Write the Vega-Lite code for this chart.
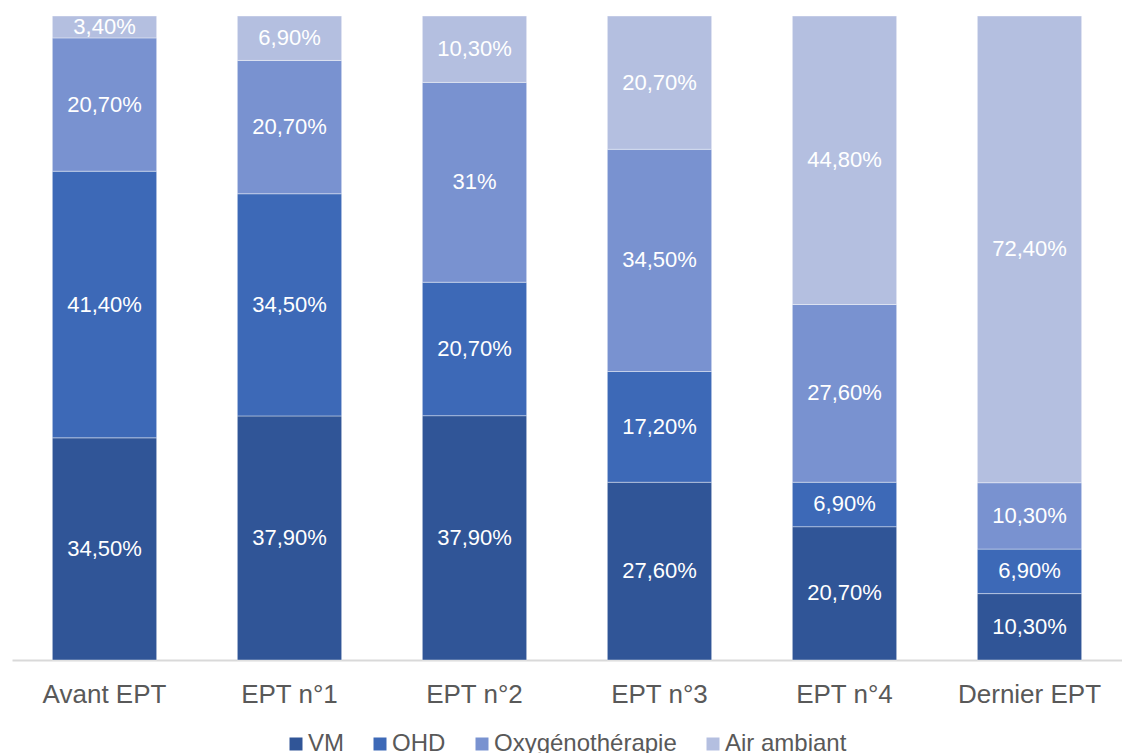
{
  "$schema": "https://vega.github.io/schema/vega-lite/v6.json",
  "width": 1110,
  "height": 644,
  "autosize": {"type": "none"},
  "padding": {"left": 12, "top": 16, "right": 0, "bottom": 93},
  "background": "white",
  "config": {"view": {"stroke": null}, "font": "Liberation Sans"},
  "data": {"values": [
    {"cat": "Avant EPT", "serie": "VM", "ord": 1, "val": 34.5, "label": "34,50%"},
    {"cat": "Avant EPT", "serie": "OHD", "ord": 2, "val": 41.4, "label": "41,40%"},
    {"cat": "Avant EPT", "serie": "Oxygénothérapie", "ord": 3, "val": 20.7, "label": "20,70%"},
    {"cat": "Avant EPT", "serie": "Air ambiant", "ord": 4, "val": 3.4, "label": "3,40%"},
    {"cat": "EPT n°1", "serie": "VM", "ord": 1, "val": 37.9, "label": "37,90%"},
    {"cat": "EPT n°1", "serie": "OHD", "ord": 2, "val": 34.5, "label": "34,50%"},
    {"cat": "EPT n°1", "serie": "Oxygénothérapie", "ord": 3, "val": 20.7, "label": "20,70%"},
    {"cat": "EPT n°1", "serie": "Air ambiant", "ord": 4, "val": 6.9, "label": "6,90%"},
    {"cat": "EPT n°2", "serie": "VM", "ord": 1, "val": 37.9, "label": "37,90%"},
    {"cat": "EPT n°2", "serie": "OHD", "ord": 2, "val": 20.7, "label": "20,70%"},
    {"cat": "EPT n°2", "serie": "Oxygénothérapie", "ord": 3, "val": 31, "label": "31%"},
    {"cat": "EPT n°2", "serie": "Air ambiant", "ord": 4, "val": 10.3, "label": "10,30%"},
    {"cat": "EPT n°3", "serie": "VM", "ord": 1, "val": 27.6, "label": "27,60%"},
    {"cat": "EPT n°3", "serie": "OHD", "ord": 2, "val": 17.2, "label": "17,20%"},
    {"cat": "EPT n°3", "serie": "Oxygénothérapie", "ord": 3, "val": 34.5, "label": "34,50%"},
    {"cat": "EPT n°3", "serie": "Air ambiant", "ord": 4, "val": 20.7, "label": "20,70%"},
    {"cat": "EPT n°4", "serie": "VM", "ord": 1, "val": 20.7, "label": "20,70%"},
    {"cat": "EPT n°4", "serie": "OHD", "ord": 2, "val": 6.9, "label": "6,90%"},
    {"cat": "EPT n°4", "serie": "Oxygénothérapie", "ord": 3, "val": 27.6, "label": "27,60%"},
    {"cat": "EPT n°4", "serie": "Air ambiant", "ord": 4, "val": 44.8, "label": "44,80%"},
    {"cat": "Dernier EPT", "serie": "VM", "ord": 1, "val": 10.3, "label": "10,30%"},
    {"cat": "Dernier EPT", "serie": "OHD", "ord": 2, "val": 6.9, "label": "6,90%"},
    {"cat": "Dernier EPT", "serie": "Oxygénothérapie", "ord": 3, "val": 10.3, "label": "10,30%"},
    {"cat": "Dernier EPT", "serie": "Air ambiant", "ord": 4, "val": 72.4, "label": "72,40%"}
  ]},
  "transform": [
    {"stack": "val", "groupby": ["cat"], "sort": [{"field": "ord", "order": "ascending"}], "offset": "normalize", "as": ["v0", "v1"]},
    {"calculate": "(datum.v0 + datum.v1) / 2", "as": "vmid"}
  ],
  "encoding": {
    "x": {
      "field": "cat", "type": "nominal", "sort": null, "title": null,
      "scale": {"paddingInner": 0.436, "paddingOuter": 0.218},
      "axis": {
        "labelAngle": 0, "ticks": false, "domainColor": "#D9D9D9", "domainWidth": 2,
        "labelFont": "Liberation Sans", "labelFontSize": 26, "labelColor": "#595959",
        "labelPadding": 21, "labelBaseline": "top"
      }
    }
  },
  "layer": [
    {
      "mark": {"type": "bar", "stroke": "white", "strokeWidth": 0.8, "strokeOpacity": 0.5},
      "encoding": {
        "y": {"field": "v0", "type": "quantitative", "scale": {"domain": [0, 1], "nice": false}, "axis": null},
        "y2": {"field": "v1"},
        "color": {
          "field": "serie", "type": "nominal",
          "scale": {"domain": ["VM", "OHD", "Oxygénothérapie", "Air ambiant"], "range": ["#305597", "#3D69B7", "#7992D0", "#B4BFE0"]},
          "legend": {
            "title": null, "orient": "none", "direction": "horizontal",
            "legendX": 272, "legendY": 716, "padding": 0,
            "symbolType": "square", "symbolSize": 169, "symbolStrokeWidth": 0,
            "labelFont": "Liberation Sans", "labelFontSize": 24, "labelColor": "#595959",
            "labelOffset": 0, "columnPadding": 24, "labelLimit": 0
          }
        }
      }
    },
    {
      "mark": {"type": "text", "color": "white", "font": "Liberation Sans", "fontSize": 22, "baseline": "middle", "align": "center"},
      "encoding": {
        "y": {"field": "vmid", "type": "quantitative", "scale": {"domain": [0, 1], "nice": false}, "axis": null},
        "text": {"field": "label"}
      }
    }
  ]
}
